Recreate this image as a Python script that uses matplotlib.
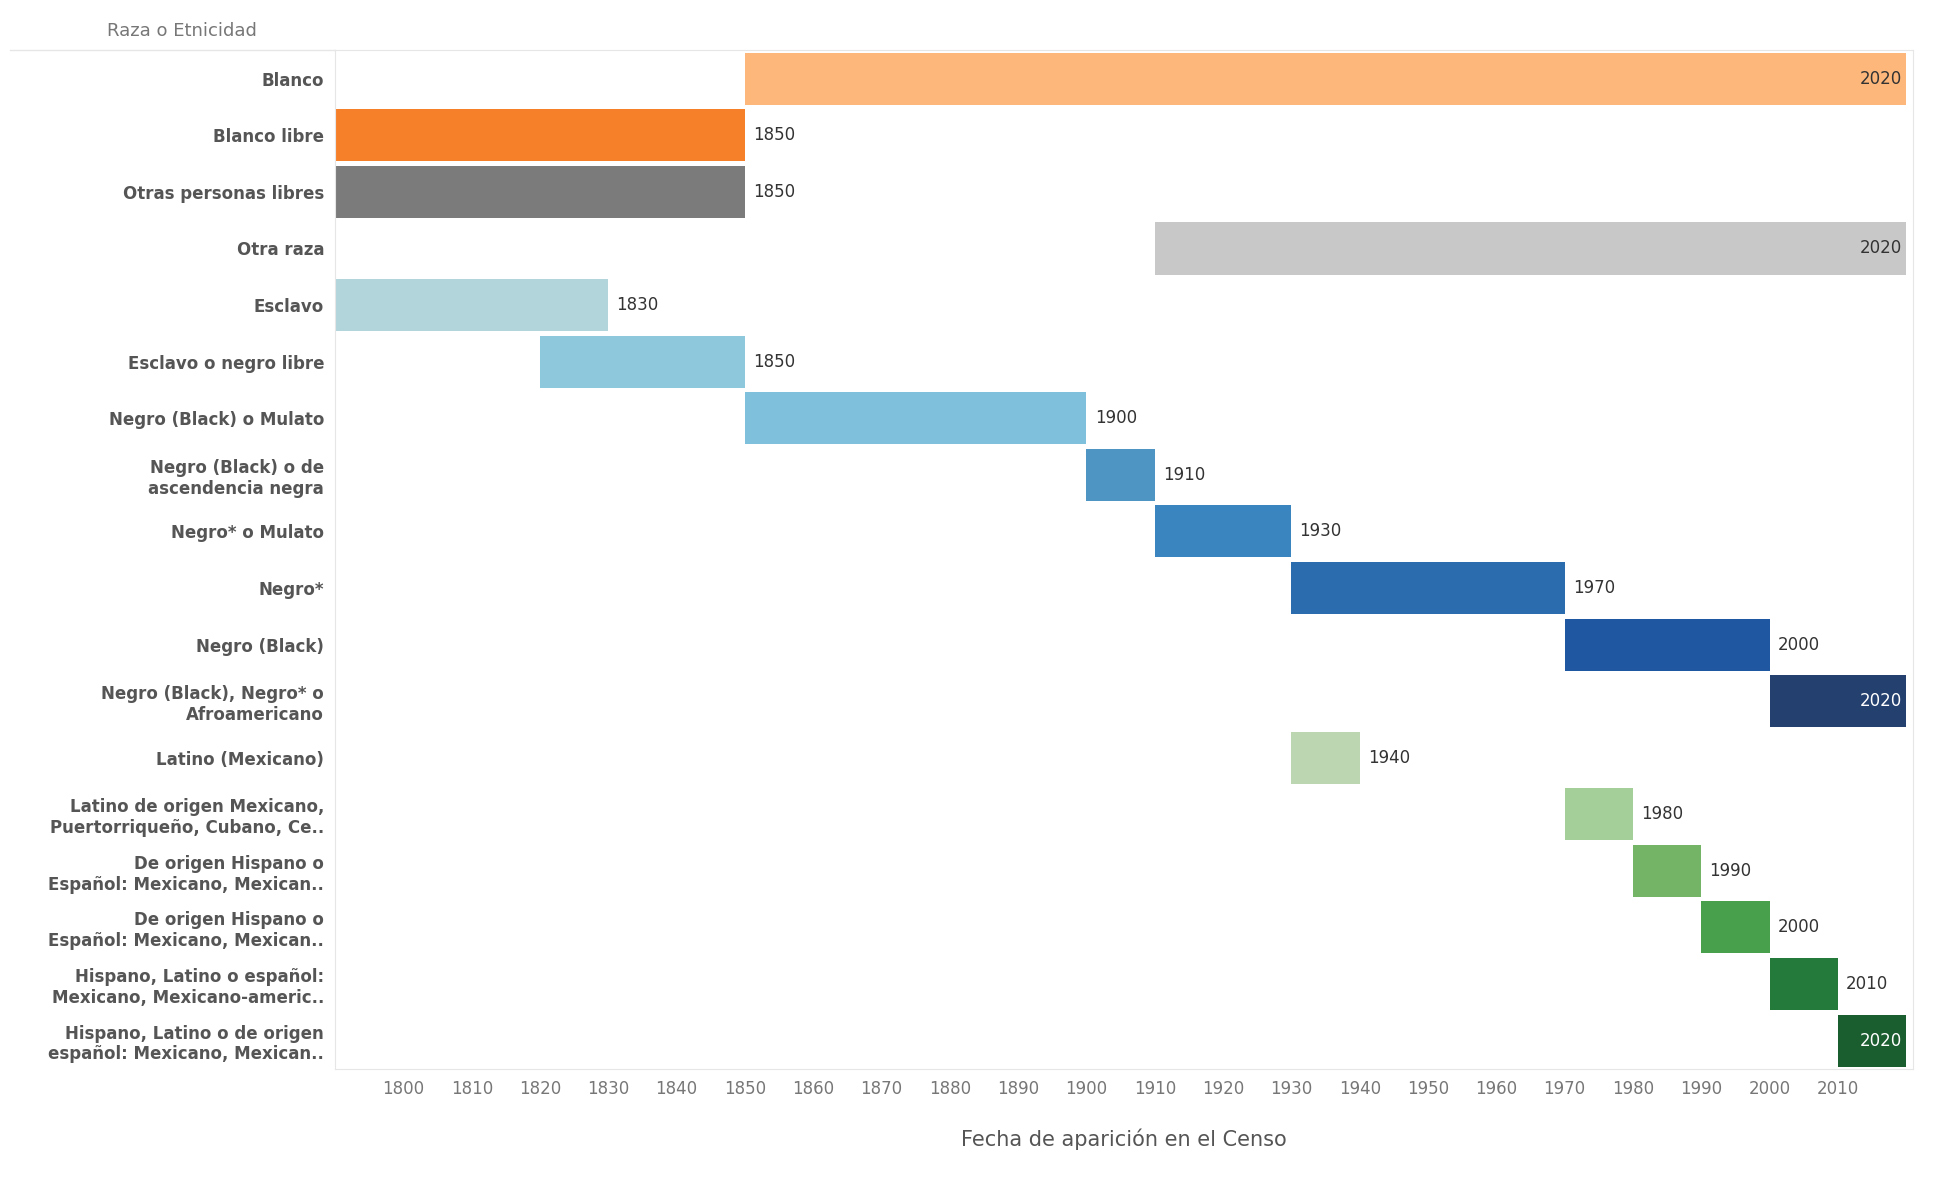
import matplotlib
matplotlib.use("Agg")
import matplotlib.pyplot as plt

categories = ["Blanco", "Blanco libre", "Otras personas libres", "Otra raza", "Esclavo",
    "Esclavo o negro libre", "Negro (Black) o Mulato", "Negro (Black) o de\nascendencia negra",
    "Negro* o Mulato", "Negro*", "Negro (Black)", "Negro (Black), Negro* o\nAfroamericano",
    "Latino (Mexicano)", "Latino de origen Mexicano,\nPuertorriqueño, Cubano, Ce..",
    "De origen Hispano o\nEspañol: Mexicano, Mexican..", "De origen Hispano o\nEspañol: Mexicano, Mexican..",
    "Hispano, Latino o español:\nMexicano, Mexicano-americ..", "Hispano, Latino o de origen\nespañol: Mexicano, Mexican.."]
start = [1850, 1790, 1790, 1910, 1790, 1820, 1850, 1900, 1910, 1930, 1970, 2000, 1930, 1970, 1980, 1990, 2000, 2010]
end = [2020, 1850, 1850, 2020, 1830, 1850, 1900, 1910, 1930, 1970, 2000, 2020, 1940, 1980, 1990, 2000, 2010, 2020]
colors = ["#fdb77a", "#f6802a", "#7b7b7b", "#c8c8c8", "#b2d5dc", "#8dc8dd", "#7fc0dc", "#4f95c4",
    "#3a84bf", "#2a6cad", "#1f57a0", "#23406f", "#bcd6b2", "#a4cf98", "#74b467", "#48a04d", "#237a3a", "#1a5e2f"]
ticks = list(range(1800, 2011, 10))

fig = plt.figure(figsize=(19.6, 12.01), dpi=100)
ax = fig.add_axes([0.171, 0.110, 0.805, 0.848])
n = len(categories)
y = list(range(n))
ax.barh(y, [e - s for s, e in zip(start, end)], left=start, color=colors, height=0.92)
for i, (s, e) in enumerate(zip(start, end)):
    if e >= 2020:
        ax.text(e - 0.6, i, str(e), ha="right", va="center", fontsize=12,
                color="white" if i in (11, 17) else "#333333")
    else:
        ax.text(e + 1.2, i, str(e), ha="left", va="center", fontsize=12, color="#333333")
ax.set_ylim(n - 0.5, -0.5)
ax.set_xlim(1790, 2021)
ax.set_yticks(y)
ax.set_yticklabels(categories, fontsize=12, fontweight="bold", color="#555555")
ax.set_xticks(ticks)
ax.set_xticklabels([str(t) for t in ticks], fontsize=12, color="#777777")
ax.tick_params(length=0, pad=8)
for sp in ["top", "right", "bottom", "left"]:
    ax.spines[sp].set_color("#e6e6e6")
ax.set_xlabel("Fecha de aparición en el Censo", fontsize=15, color="#555555", labelpad=22)
fig.text(0.131, 0.967, "Raza o Etnicidad", ha="right", va="bottom", fontsize=13, color="#777777")
fig.add_artist(plt.Line2D([0.005, 0.171], [0.958, 0.958], color="#e6e6e6", lw=1))
fig.savefig("out.png")
